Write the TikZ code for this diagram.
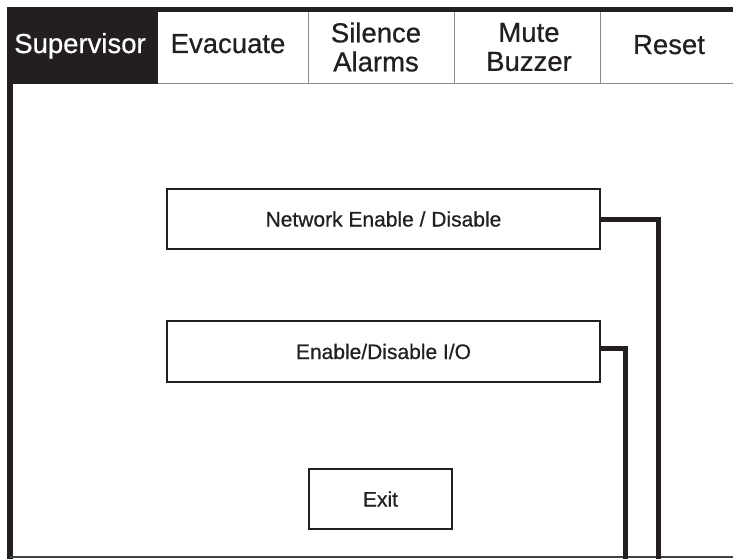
\documentclass[tikz,border=0pt]{standalone}
\usepackage{fontspec}
\setmainfont{Liberation Sans}
\newfontfamily\heavyfont[FakeBold=0.6]{Liberation Sans}
\definecolor{ink}{HTML}{231F20}
\definecolor{sep}{HTML}{8A8A8A}
\tikzset{
  tabtxt/.style={font=\heavyfont\fontsize{27.5}{29}\selectfont, text=ink, anchor=base, inner sep=0pt, align=center},
  btn/.style={draw=ink, line width=1.3pt, fill=white, font=\heavyfont\fontsize{21}{24}\selectfont, text=ink, inner sep=0pt},
  conn/.style={draw=ink, line width=5pt},
  seprule/.style={draw=sep, line width=1pt}
}
\begin{document}
\begin{tikzpicture}[x=1pt,y=-1pt]
\useasboundingbox (0,0) rectangle (733,559);
% tab bar
\node[fill=ink, minimum width=151pt, minimum height=77pt, anchor=north west, inner sep=0pt] (supbox) at (7,7) {};
\draw[seprule] (158,84) -- (733,84);
\draw[seprule] (308,12) -- (308,84);
\draw[seprule] (454,12) -- (454,84);
\draw[seprule] (600,12) -- (600,84);
\draw[ink, line width=4.5pt] (7,9.5) -- (733,9.5);
\node[tabtxt, text=white] (sup) at (80,53) {Supervisor};
\node[tabtxt] (evac) at (228,53) {Evacuate};
\node[tabtxt, anchor=center] (sil) at (376,47) {Silence\\Alarms};
\node[tabtxt, anchor=center] (mute) at (529,47) {Mute\\Buzzer};
\node[tabtxt] (reset) at (669,54) {Reset};
% frame
\draw[ink, line width=6pt] (10,84) -- (10,559);
\draw[ink!85, line width=1.6pt] (10,557) -- (733,557);
% buttons
\node[btn, minimum width=433pt, minimum height=60pt] (net) at (383.5,219) {Network Enable / Disable};
\node[btn, minimum width=433pt, minimum height=61pt] (io) at (383.5,351.5) {Enable/Disable I/O};
\node[btn, minimum width=143pt, minimum height=60pt] (exit) at (380.5,499) {Exit};
% connectors
\coordinate (netdrop) at (658,559);
\coordinate (iodrop) at (625,559);
\draw[conn] (net.east) -| (netdrop);
\draw[conn] ([yshift=3.5pt]io.east) -| (iodrop);
\end{tikzpicture}
\end{document}
